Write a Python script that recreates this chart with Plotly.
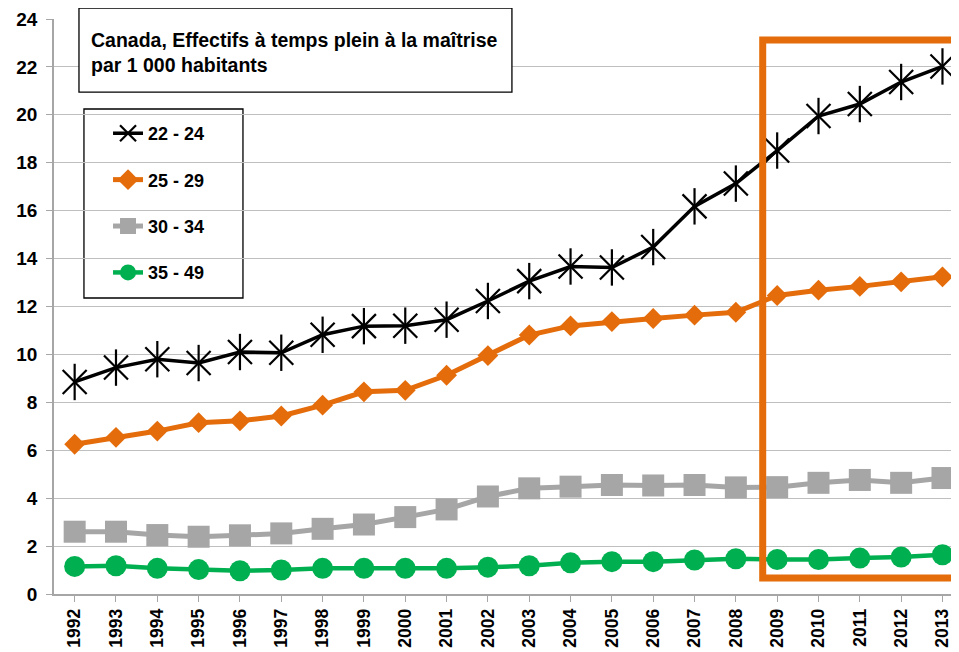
import plotly.graph_objects as go

years = [str(y) for y in range(1992, 2014)]
s_22_24 = [8.85, 9.45, 9.8, 9.64, 10.1, 10.07, 10.82, 11.18, 11.2, 11.45, 12.23, 13.06,
           13.67, 13.63, 14.48, 16.18, 17.13, 18.51, 19.95, 20.45, 21.37, 22.02]
s_25_29 = [6.25, 6.54, 6.8, 7.15, 7.23, 7.43, 7.88, 8.44, 8.5, 9.13, 9.95, 10.81,
           11.19, 11.37, 11.5, 11.64, 11.76, 12.46, 12.68, 12.84, 13.03, 13.24]
s_30_34 = [2.6, 2.6, 2.46, 2.39, 2.45, 2.53, 2.72, 2.9, 3.21, 3.53, 4.07, 4.41,
           4.48, 4.55, 4.53, 4.55, 4.45, 4.46, 4.64, 4.76, 4.64, 4.84]
s_35_49 = [1.15, 1.18, 1.07, 1.02, 0.97, 1.0, 1.07, 1.07, 1.07, 1.07, 1.12, 1.18,
           1.3, 1.35, 1.35, 1.42, 1.47, 1.44, 1.44, 1.5, 1.54, 1.64]
series_names = ["22 - 24", "25 - 29", "30 - 34", "35 - 49"]
y_ticks = list(range(0, 25, 2))

FONT = "Liberation Sans, Arial, sans-serif"
ORANGE = "#E46C0A"
GRAY = "#A6A6A6"
GREEN = "#00B050"

fig = go.Figure()
xs = list(range(len(years)))
# 22-24: star marker = X + vertical stroke
fig.add_trace(go.Scatter(x=xs, y=s_22_24, name="<b>%s</b>" % series_names[0], mode="lines+markers",
                         legendgroup="a",
                         line=dict(color="black", width=3.5),
                         marker=dict(symbol="x-thin-open", size=24, color="black",
                                     line=dict(color="black", width=2.2))))
fig.add_trace(go.Scatter(x=xs, y=s_22_24, mode="markers", showlegend=False, hoverinfo="skip",
                         legendgroup="a",
                         marker=dict(symbol="line-ns-open", size=26, color="black",
                                     line=dict(color="black", width=2.2))))
fig.add_trace(go.Scatter(x=xs, y=s_25_29, name="<b>%s</b>" % series_names[1], mode="lines+markers",
                         legendgroup="b",
                         line=dict(color=ORANGE, width=5),
                         marker=dict(symbol="diamond", size=16, color=ORANGE)))
fig.add_trace(go.Scatter(x=xs, y=s_30_34, name="<b>%s</b>" % series_names[2], mode="lines+markers",
                         legendgroup="c",
                         line=dict(color=GRAY, width=5),
                         marker=dict(symbol="square", size=22, color=GRAY)))
fig.add_trace(go.Scatter(x=xs, y=s_35_49, name="<b>%s</b>" % series_names[3], mode="lines+markers",
                         legendgroup="d",
                         line=dict(color=GREEN, width=4.5),
                         marker=dict(symbol="circle", size=21, color=GREEN)))

# highlight rectangle (2009-2013)
fig.add_shape(type="rect", xref="x", yref="y", x0=16.65, x1=22.2, y0=0.67, y1=23.12,
              line=dict(color=ORANGE, width=7), fillcolor="rgba(0,0,0,0)", layer="above")

# title box
fig.add_shape(type="rect", xref="paper", yref="paper", x0=0.0276, x1=0.506, y0=0.873, y1=1.019,
              line=dict(color="black", width=1.3), fillcolor="white", layer="above")
fig.add_annotation(xref="paper", yref="paper", x=0.0387, y=0.9426, xanchor="left", yanchor="middle",
                   align="left", showarrow=False,
                   text="<b>Canada, Effectifs à temps plein à la maîtrise<br>par 1 000 habitants</b>",
                   font=dict(family=FONT, size=19.5, color="black"))

# legend box
fig.add_shape(type="rect", xref="paper", yref="paper", x0=0.0331, x1=0.2088, y0=0.5148, y1=0.8435,
              line=dict(color="black", width=1.3), fillcolor="white", layer="below")

fig.update_layout(
    width=951, height=644,
    margin=dict(l=46, r=0, t=11, b=58, autoexpand=False),
    paper_bgcolor="white", plot_bgcolor="white",
    font=dict(family=FONT, color="black"),
    showlegend=True,
    legend=dict(x=0.0597, y=0.833, xanchor="left", yanchor="top",
                bgcolor="rgba(0,0,0,0)", borderwidth=0,
                font=dict(family=FONT, size=18, color="black"),
                tracegroupgap=20, itemwidth=30),
    xaxis=dict(range=[-0.5, 21.4], tickmode="array", tickvals=xs,
               ticktext=years, tickangle=-90, automargin=False,
               tickfont=dict(family=FONT, size=17.5, color="black", weight="bold"),
               showgrid=False, showline=True, linecolor="#A6A6A6", linewidth=1.5,
               ticks="outside", ticklen=6, tickcolor="#A6A6A6", tickson="boundaries",
               zeroline=False, ticklabeloverflow="allow"),
    yaxis=dict(range=[0, 24], tickmode="array", tickvals=y_ticks,
               ticktext=[str(v) for v in y_ticks], automargin=False,
               tickfont=dict(family=FONT, size=19, color="black", weight="bold"),
               showgrid=True, gridcolor="#BFBFBF", gridwidth=1.2,
               showline=True, linecolor="#A6A6A6", linewidth=1.5,
               ticks="outside", ticklen=6, tickcolor="#A6A6A6", zeroline=False,
               ticklabeloverflow="allow", ticklabelstandoff=5),
)

fig.write_html("out.html")
